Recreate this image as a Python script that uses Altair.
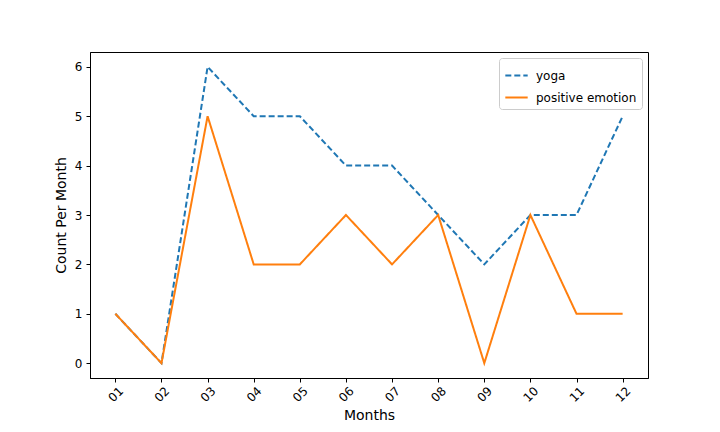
import altair as alt
import pandas as pd

months = list(range(1, 13))
yoga = [1, 0, 6, 5, 5, 4, 4, 3, 2, 3, 3, 5]
positive = [1, 0, 5, 2, 2, 3, 2, 3, 0, 3, 1, 1]
series = ["yoga", "positive emotion"]
colors = ["#1f77b4", "#ff7f0e"]

df = pd.concat([
    pd.DataFrame({"month": months, "count": yoga, "series": "yoga"}),
    pd.DataFrame({"month": months, "count": positive, "series": "positive emotion"}),
])

font = "DejaVu Sans"

x = alt.X("month:Q", title="Months",
          scale=alt.Scale(domain=[0.45, 12.55], nice=False, zero=False),
          axis=alt.Axis(values=months, labelAngle=-45,
                        labelExpr="datum.value < 10 ? '0' + datum.value : '' + datum.value",
                        grid=False, labelFontSize=12, titleFontSize=14,
                        labelColor="black", titleColor="black", tickColor="black",
                        domainColor="black", labelFont=font, titleFont=font,
                        titleFontWeight="normal",
                        tickSize=4, labelPadding=12, titlePadding=5,
                        labelAlign="center", labelBaseline="middle"))
y = alt.Y("count:Q", title="Count Per Month",
          scale=alt.Scale(domain=[-0.3, 6.3], nice=False, zero=False),
          axis=alt.Axis(values=[0, 1, 2, 3, 4, 5, 6], grid=False, labelFontSize=12,
                        titleFontSize=14, labelColor="black", titleColor="black",
                        tickColor="black", domainColor="black", labelFont=font,
                        titleFont=font, titleFontWeight="normal",
                        tickSize=4, labelPadding=4, titlePadding=6))
color = alt.Color("series:N", scale=alt.Scale(domain=series, range=colors),
                  legend=alt.Legend(title=None, orient="top-right", offset=6,
                                    labelFontSize=12, labelFont=font, labelColor="black",
                                    symbolType="stroke", symbolSize=500, symbolStrokeWidth=2,
                                    strokeColor="#cccccc", fillColor="white", padding=5,
                                    cornerRadius=3, rowPadding=3, labelOffset=7))
dash = alt.StrokeDash("series:N", scale=alt.Scale(domain=series, range=[[6, 3], [1, 0]]),
                      legend=alt.Legend(title=None, orient="top-right"))

base = alt.Chart(df).mark_line(strokeWidth=2).encode(x=x, y=y, color=color, strokeDash=dash)
l1 = base.transform_filter(alt.datum.series == "yoga")
l2 = base.transform_filter(alt.datum.series == "positive emotion")

chart = alt.layer(l1, l2).properties(
    width=558, height=326,
    autosize=alt.AutoSizeParams(type="none"),
    padding={"left": 82, "top": 44, "right": 20, "bottom": 44},
    background="white",
).configure_view(stroke="black", strokeWidth=1)

chart.save("out.html", embed_options={"renderer": "svg", "actions": False})
